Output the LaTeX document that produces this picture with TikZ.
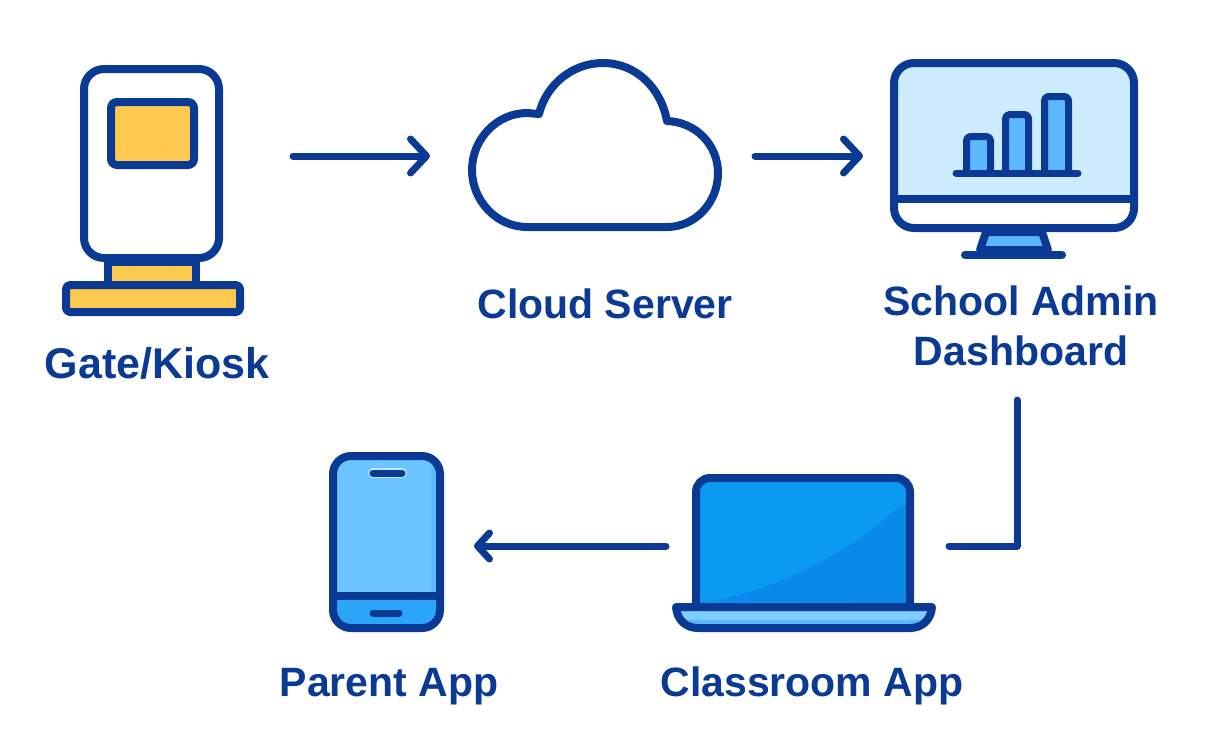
\documentclass[tikz,border=0pt]{standalone}
\usepackage{fontspec}
\setmainfont{Liberation Sans}
\usetikzlibrary{arrows.meta}
\definecolor{ink}{HTML}{0B3A94}
\definecolor{gold}{HTML}{FFC94F}
\definecolor{pale}{HTML}{CDEBFF}
\definecolor{sky}{HTML}{5CB8FA}
\definecolor{phonescr}{HTML}{6CC4FF}
\definecolor{phonebot}{HTML}{2AA5F7}
\definecolor{lapscr}{HTML}{0A9AF2}
\definecolor{lapdark}{HTML}{0A8AE8}
\definecolor{lapbase}{HTML}{80CBFF}
\definecolor{halo}{HTML}{BDE6FF}
\tikzset{
  icon/.style={draw=ink,line width=8pt,line join=round},
  thin icon/.style={draw=ink,line width=7pt,line join=round},
  flow/.style={draw=ink,line width=7pt,line cap=round,line join=round},
  flowtip/.style={flow,-{Straight Barb[round,length=16pt,width=34pt]}},
  smalltip/.style={flow,-{Straight Barb[round,length=12pt,width=26pt]}},
  label/.style={text=ink,font=\fontsize{41}{50}\selectfont\bfseries,align=center},
}
\begin{document}
\begin{tikzpicture}[x=1pt,y=-1pt]
\useasboundingbox (0,0) rectangle (1213,737);
% kiosk
\draw[icon,fill=gold] (108,262) rectangle (196,285);
\draw[icon,fill=gold,rounded corners=4pt] (66,285) rectangle (240,312);
\draw[icon,fill=white,rounded corners=20pt] (84,69) rectangle (219,258);
\draw[icon,fill=gold,rounded corners=6pt] (111,102) rectangle (194,165);
% cloud
\draw[icon,fill=white] (527,113) -- (539,114) .. controls (546,85) and (572,63) .. (603,63)
  .. controls (636,63) and (661,88) .. (667,121) .. controls (696,122) and (718,145) .. (718,173)
  .. controls (718,203) and (695,227) .. (667,227) -- (527,227)
  .. controls (497,227) and (472,201) .. (472,170) .. controls (472,139) and (497,113) .. (527,113) -- cycle;
% monitor
\draw[icon,fill=sky] (986,232) -- (980,250) -- (1048,250) -- (1042,232) -- cycle;
\fill[white,rounded corners=20pt] (894,63) rectangle (1134,228);
\fill[pale,rounded corners=16pt] (894,63) -- (1134,63) -- (1134,199) -- (894,199) -- cycle;
\draw[icon,rounded corners=20pt] (894,63) rectangle (1134,228);
\draw[icon] (894,199) -- (1134,199);
\draw[icon,line cap=round] (965,255) -- (1062,255);
\draw[thin icon,fill=sky,rounded corners=4pt] (966.5,173) -- (966.5,136.5) -- (990.5,136.5) -- (990.5,173);
\draw[thin icon,fill=sky,rounded corners=4pt] (1005.5,173) -- (1005.5,114.5) -- (1028.5,114.5) -- (1028.5,173);
\draw[thin icon,fill=sky,rounded corners=4pt] (1044.5,173) -- (1044.5,96.5) -- (1068.5,96.5) -- (1068.5,173);
\draw[thin icon,line cap=round] (956,173) -- (1078,173);
% laptop
\fill[lapscr,rounded corners=14pt] (696,478) rectangle (910,607);
\fill[lapdark] (699,602) .. controls (750,600) and (845,560) .. (900,505) -- (907,505) -- (907,603) -- cycle;
\draw[icon,rounded corners=14pt] (696,607) -- (696,478) -- (910,478) -- (910,607);
\fill[lapbase] (676,607) -- (932,607) .. controls (931,620) and (922,628) .. (910,628) -- (698,628) .. controls (686,628) and (677,620) .. (676,607) -- cycle;
\fill[sky] (682,620) -- (926,620) .. controls (922,625) and (916,628) .. (910,628) -- (698,628) .. controls (692,628) and (686,625) .. (682,620) -- cycle;
\draw[icon] (676,607) -- (932,607) .. controls (931,620) and (922,628) .. (910,628) -- (698,628) .. controls (686,628) and (677,620) .. (676,607) -- cycle;
% phone
\fill[phonescr,rounded corners=18pt] (333,456) rectangle (440,628);
\fill[sky] (431,462) rectangle (438,596);
\fill[phonebot,rounded corners=16pt] (333,628) -- (333,596) -- (440,596) -- (440,628) -- cycle;
\draw[icon,rounded corners=18pt] (333,456) rectangle (440,628);
\draw[icon] (333,596) -- (440,596);
\draw[draw=halo,line width=9.5pt,line cap=round] (373,473) -- (402,473);
\draw[draw=ink,line width=7pt,line cap=round] (373,473) -- (402,473);
\draw[draw=ink,line width=7pt,line cap=round] (373,613) -- (399,613);
% connector ends
\coordinate (a1) at (293,156);
\coordinate (a2) at (430,156);
\coordinate (b1) at (755,156);
\coordinate (b2) at (863,156);
\coordinate (c1) at (1017,400);
\coordinate (c2) at (1017,546);
\coordinate (c3) at (949,546);
\coordinate (d1) at (666,546);
\coordinate (d2) at (474,546);
\draw[flowtip] (a1) -- (a2);
\draw[flowtip] (b1) -- (b2);
\draw[flow] (c1) -- (c2) -- (c3);
\draw[smalltip] (d1) -- (d2);
% labels
\node[label,anchor=base,font=\fontsize{43}{50}\selectfont\bfseries] (gate) at (157,378) {Gate/Kiosk};
\node[label,anchor=base] (cloud) at (605,318) {Cloud Server};
\node[label] (school) at (1021,326) {School Admin\\Dashboard};
\node[label,anchor=base] (parent) at (389,696) {Parent App};
\node[label,anchor=base] (class) at (812,696) {Classroom App};
\end{tikzpicture}
\end{document}
